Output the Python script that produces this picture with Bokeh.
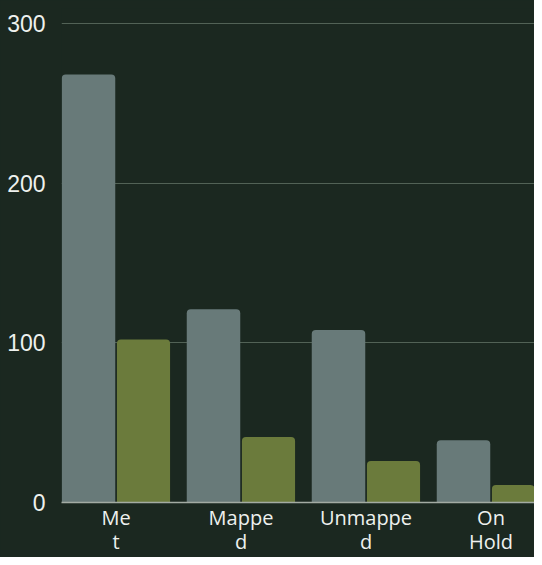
from bokeh.plotting import figure
from bokeh.models import Range1d, FixedTicker, ColumnDataSource
from bokeh.embed import file_html
from bokeh.resources import INLINE

categories = ["Met", "Mapped", "Unmapped", "On Hold"]
tick_labels = ["Me\nt", "Mappe\nd", "Unmappe\nd", "On\nHold"]
series_a = [268, 121, 108, 39]
series_b = [102, 41, 26, 11]
y_ticks = [0, 100, 200, 300]

BG = "#1b2820"
GRAY = "#687a79"
GREEN = "#6b7b3c"
TEXT = "#eef1ee"

idx = [i + 0.5 for i in range(len(categories))]
src = ColumnDataSource(dict(
    xa=[x - 0.22 for x in idx], xb=[x + 0.22 for x in idx],
    a=series_a, b=series_b, cat=categories))

p = figure(width=534, height=557, output_backend="svg", toolbar_location=None,
           x_range=Range1d(0.064, 3.848), y_range=Range1d(0, 309.3),
           min_border_left=61, min_border_right=0, min_border_top=8,
           min_border_bottom=52)
p.background_fill_color = BG
p.border_fill_color = BG
p.outline_line_color = None
p.styles = {"background-color": BG}

p.vbar(x="xa", top="a", width=0.428, source=src, fill_color=GRAY,
       line_color=None, border_radius=(4, 4, 0, 0))
p.vbar(x="xb", top="b", width=0.425, source=src, fill_color=GREEN,
       line_color=None, border_radius=(4, 4, 0, 0))

p.xgrid.visible = False
p.ygrid.ticker = FixedTicker(ticks=y_ticks)
p.ygrid.grid_line_color = "#526256"
p.ygrid.grid_line_width = 1

p.yaxis.ticker = FixedTicker(ticks=y_ticks)
p.yaxis.axis_line_color = None
p.yaxis.major_tick_line_color = None
p.yaxis.minor_tick_line_color = None
p.yaxis.major_tick_out = 0
p.yaxis.major_tick_in = 0
p.yaxis.major_label_standoff = 16
p.yaxis.major_label_text_font = "Liberation Sans"
p.yaxis.major_label_text_font_size = "23px"
p.yaxis.major_label_text_color = TEXT

p.xaxis.ticker = FixedTicker(ticks=idx)
p.xaxis.major_label_overrides = {x: t for x, t in zip(idx, tick_labels)}
p.xaxis.axis_line_color = "#a3aba3"
p.xaxis.axis_line_width = 1.5
p.xaxis.major_tick_line_color = None
p.xaxis.minor_tick_line_color = None
p.xaxis.major_tick_out = 0
p.xaxis.major_tick_in = 0
p.xaxis.major_label_standoff = 1
p.xaxis.major_label_text_font = "Open Sans"
p.xaxis.major_label_text_font_size = "20px"
p.xaxis.major_label_text_color = TEXT
p.xaxis.major_label_text_line_height = 0.9

open("out.html", "w").write(file_html(p, INLINE))
